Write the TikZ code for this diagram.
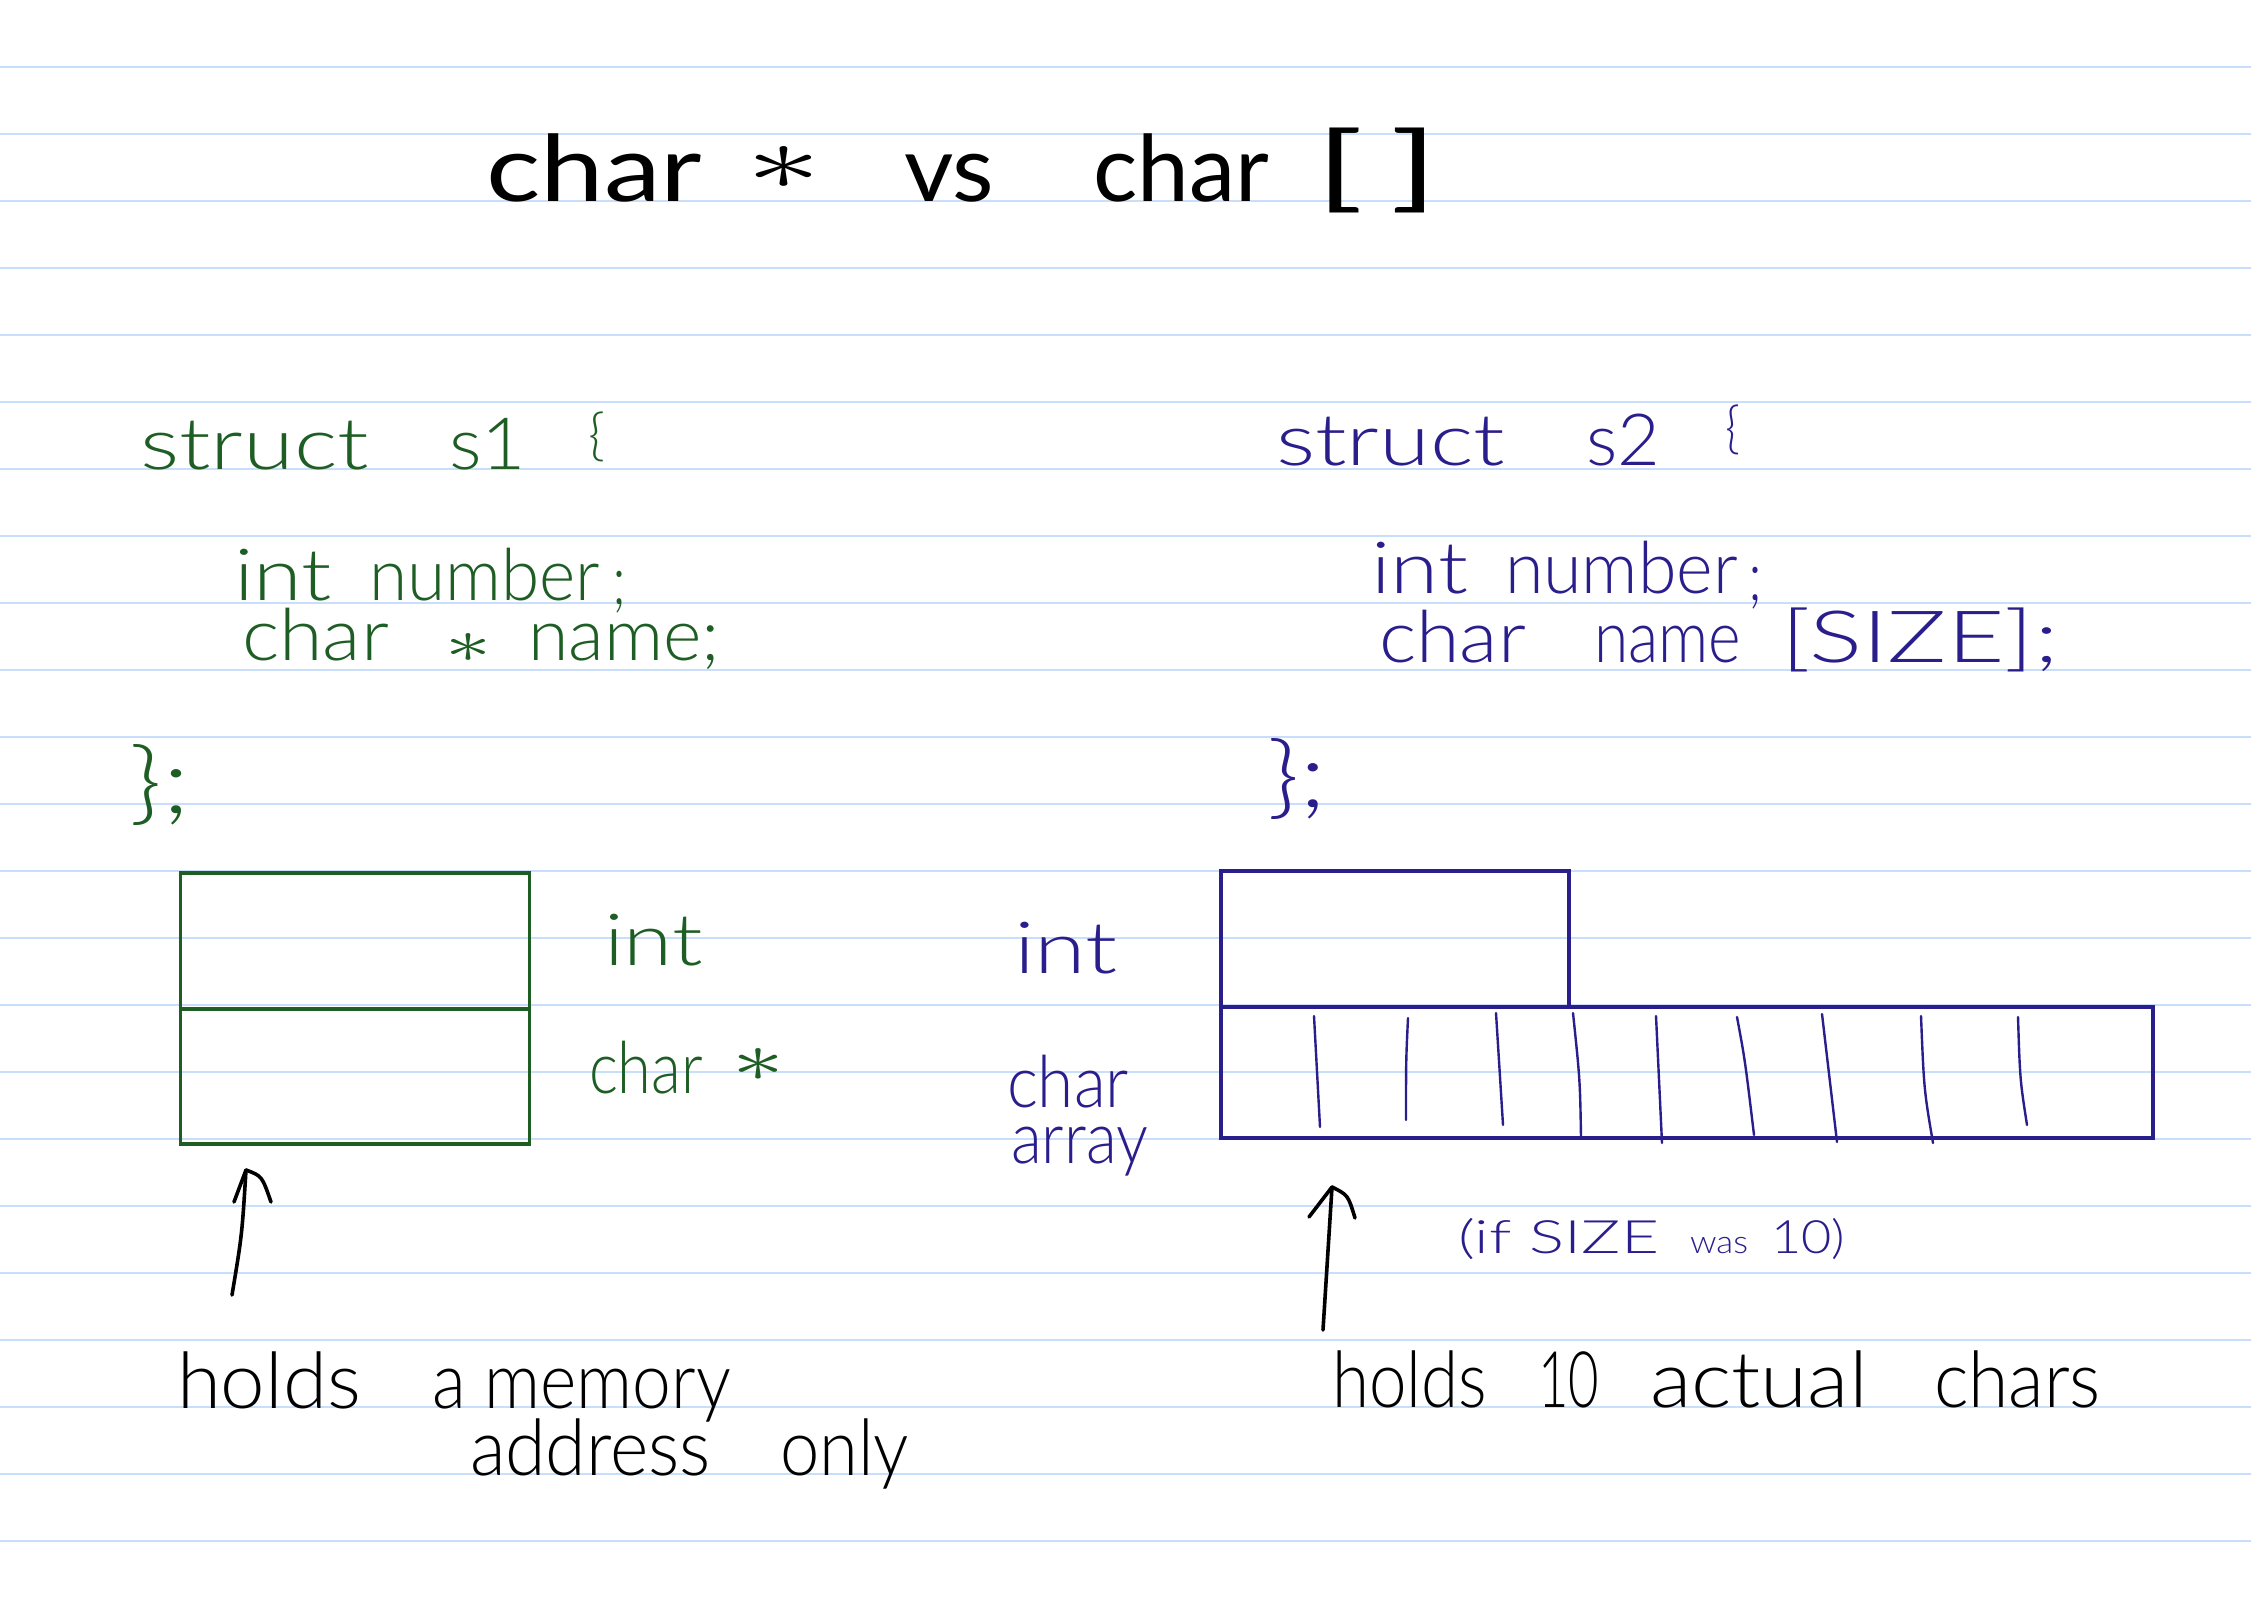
\documentclass[tikz,border=0pt]{standalone}
\usepackage{fontspec}
\setmainfont{Lato}[UprightFont={* Light}]
\newfontfamily\titlefamily{Lato}
\usepackage{graphicx}
\definecolor{greenink}{HTML}{1E5E24}
\definecolor{blueink}{HTML}{2A1E8C}
\definecolor{ruleblue}{HTML}{C8DEFA}
\newcommand\wstretch[2]{\resizebox{#1pt}{\height}{#2}}
\newcommand\wfit[3]{\resizebox*{#1pt}{#2pt}{#3}}
\tikzset{
  hw/.style={anchor=base west, inner sep=0pt, outer sep=0pt},
  hc/.style={anchor=center, inner sep=0pt, outer sep=0pt},
  titletext/.style={text=black, font=\titlefamily\fontsize{92}{100}\selectfont},
  gtext/.style={text=greenink, font=\fontsize{72}{80}\selectfont},
  btext/.style={text=blueink, font=\fontsize{72}{80}\selectfont},
  ktext/.style={text=black, font=\fontsize{78}{85}\selectfont},
  ruling/.style={draw=ruleblue, line width=2.5pt},
  gbox/.style={draw=greenink, line width=3.5pt},
  bbox/.style={draw=blueink, line width=3.5pt},
  divider/.style={draw=blueink, line width=2.4pt, line cap=round},
  penarrow/.style={draw=black, line width=3.6pt, line cap=round, line join=round},
}
\begin{document}
\begin{tikzpicture}[x=1pt,y=-1pt]
\useasboundingbox (0,0) rectangle (2251,1602);
\fill[white] (0,0) rectangle (2251,1602);
% ruled paper
\foreach \k in {1,...,23} \draw[ruling] (0,{67*\k}) -- (2251,{67*\k});

% ---- title ----
\node[hw,titletext] (t1) at (486,202) {\wstretch{216}{char}};
\node[hc,titletext] (t2) at (784,168) {\wfit{75}{43}{$\ast$}};
\node[hw,titletext] (t3) at (904,202) {\wstretch{90}{vs}};
\node[hw,titletext] (t4) at (1093,202) {\wstretch{176}{char}};
\node[hc,titletext] (t5) at (1377,170) {\wfit{123}{85}{[\,]}};

% ---- struct s1 (green) ----
\node[hw,gtext] (g1) at (140,469) {\wstretch{229}{struct}};
\node[hw,gtext] (g2) at (449,469) {\wstretch{77}{s1}};
\node[hc,gtext] (g3) at (597,437) {\wfit{17}{50}{\{}};
\node[hw,gtext] (g4) at (234,600) {\wstretch{98}{int}};
\node[hw,gtext] (g5) at (369,600) {\wstretch{231}{number}};
\node[hc,gtext] (g5s) at (619,592) {\wfit{14}{42}{;}};
\node[hw,gtext] (g6) at (242,660) {\wstretch{147}{char}};
\node[hc,gtext] (g7) at (468,648) {\wfit{46}{29}{$\ast$}};
\node[hw,gtext] (g8) at (528,660) {\wstretch{192}{name;}};
\node[hc,gtext] (g9) at (160,785) {\wfit{61}{81}{\};}};

% green boxes
\node[gbox, minimum width=349pt, minimum height=136pt, inner sep=0pt] (gint) at (355,941) {};
\node[gbox, minimum width=349pt, minimum height=135pt, inner sep=0pt] (gptr) at (355,1076.5) {};
\node[hw,gtext] (gl1) at (604,965) {\wstretch{99}{int}};
\node[hw,gtext] (gl2) at (589,1093) {\wstretch{114}{char}};
\node[hc,gtext] (gl3) at (758,1065) {\wfit{52}{33}{$\ast$}};

% left arrow
\coordinate (la0) at (232,1295);
\coordinate (la1) at (246,1170);
\coordinate (lh1) at (234,1202);
\coordinate (lh2) at (271,1202);
\draw[penarrow] (la0) .. controls (242,1235) .. (la1);
\draw[penarrow] (lh1) -- (la1) .. controls (262,1176) .. (lh2);

% left caption
\node[hw,ktext] (k1) at (177,1408) {\wstretch{184}{holds}};
\node[hw,ktext] (k2) at (432,1408) {\wstretch{299}{a memory}};
\node[hw,ktext] (k3) at (470,1475) {\wstretch{241}{address}};
\node[hw,ktext] (k4) at (780,1475) {\wstretch{129}{only}};

% ---- struct s2 (blue) ----
\node[hw,btext] (b1) at (1276,465) {\wstretch{229}{struct}};
\node[hw,btext] (b2) at (1586,465) {\wstretch{74}{s2}};
\node[hc,btext] (b3) at (1733,430) {\wfit{15}{50}{\{}};
\node[hw,btext] (b4) at (1371,593) {\wstretch{97}{int}};
\node[hw,btext] (b5) at (1505,593) {\wstretch{233}{number}};
\node[hc,btext] (b5s) at (1755,588) {\wfit{14}{42}{;}};
\node[hw,btext] (b6) at (1379,662) {\wstretch{147}{char}};
\node[hw,btext] (b7) at (1594,662) {\wstretch{147}{name}};
\node[hw,btext] (b8) at (1781,662) {\wstretch{278}{[SIZE];}};
\node[hc,btext] (b9) at (1297,779) {\wfit{60}{81}{\};}};

% blue boxes
\node[bbox, minimum width=348pt, minimum height=136pt, inner sep=0pt] (bint) at (1395,939) {};
\node[bbox, minimum width=932pt, minimum height=131pt, inner sep=0pt] (barr) at (1687,1072.5) {};
\draw[divider] (1314,1016) -- (1320,1127);
\draw[divider] (1408,1018) .. controls (1406,1060) .. (1406,1120);
\draw[divider] (1496,1013) -- (1503,1125);
\draw[divider] (1573,1013) .. controls (1580,1080) .. (1581,1137);
\draw[divider] (1656,1016) -- (1662,1143);
\draw[divider] (1737,1017) .. controls (1745,1060) .. (1754,1135);
\draw[divider] (1822,1014) -- (1837,1142);
\draw[divider] (1921,1016) .. controls (1924,1090) .. (1933,1143);
\draw[divider] (2018,1017) .. controls (2020,1080) .. (2027,1125);

\node[hw,btext] (bl1) at (1014,973) {\wstretch{104}{int}};
\node[hw,btext] (bl2) at (1007,1107) {\wstretch{122}{char}};
\node[hw,btext] (bl3) at (1011,1163) {\wstretch{137}{array}};

\node[hw,btext,font=\fontsize{46}{50}\selectfont] (bn1) at (1458,1253) {\wstretch{201}{(if SIZE}};
\node[hw,btext,font=\fontsize{32}{36}\selectfont] (bn2) at (1690,1253) {\wstretch{58}{was}};
\node[hw,btext,font=\fontsize{46}{50}\selectfont] (bn3) at (1771,1253) {\wstretch{74}{10)}};

% right arrow
\coordinate (ra0) at (1323,1330);
\coordinate (ra1) at (1332,1187);
\coordinate (rh1) at (1309,1217);
\coordinate (rh2) at (1355,1218);
\draw[penarrow] (ra0) -- (ra1);
\draw[penarrow] (rh1) -- (ra1) .. controls (1348,1195) .. (rh2);

% right caption
\node[hw,ktext] (r1) at (1332,1407) {\wstretch{155}{holds}};
\node[hw,ktext] (r2) at (1538,1407) {\wstretch{61}{10}};
\node[hw,ktext] (r3) at (1650,1407) {\wstretch{218}{actual}};
\node[hw,ktext] (r4) at (1934,1407) {\wstretch{167}{chars}};
\end{tikzpicture}
\end{document}
